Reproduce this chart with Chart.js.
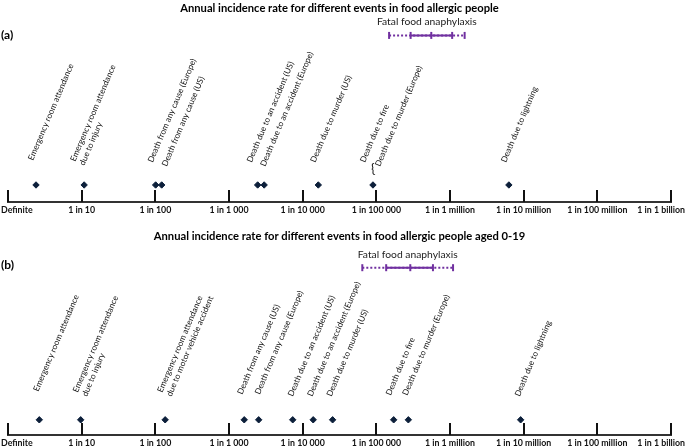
<!DOCTYPE html>
<html>
<head>
<meta charset="utf-8">
<script src="https://cdn.jsdelivr.net/npm/chart.js@4.4.1/dist/chart.umd.min.js"></script>
<style>
  body { margin: 0; background: #fff; }
  canvas { display: block; }
</style>
</head>
<body>
<canvas id="panelA" width="686" height="226"></canvas>
<canvas id="panelB" width="686" height="222"></canvas>
<script>
// AXIS: annual rate written as "1 in N"
const tickValues = [1, 1e1, 1e2, 1e3, 1e4, 1e5, 1e6, 1e7, 1e8, 1e9];
const tickNames = ["Definite", "1 in 10", "1 in 100", "1 in 1 000", "1 in 10 000",
  "1 in 100 000", "1 in 1 million", "1 in 10 million", "1 in 100 million", "1 in 1 billion"];

// PANEL (a) - all food allergic people (N in "1 in N")
const rateA = [2.4, 10.8, 101, 122, 2450, 3000, 16300, 90000, 6300000];
const labelsA = [
  "Emergency room attendance",
  "Emergency room attendance\ndue to injury",
  "Death from any cause (Europe)",
  "Death from any cause (US)",
  "Death due to an accident (US)",
  "Death due to an accident (Europe)",
  "Death due to murder (US)",
  "Death due to fire",
  "Death due to murder (Europe)",
  "Death due to lightning"
];
const labelPointA = [0, 1, 2, 3, 4, 5, 6, 7, 7, 8];
// fatal food anaphylaxis: outer low, inner low, middle, inner high, outer high
const anaphylaxisA = [149000, 292000, 557000, 1070000, 1580000];

// PANEL (b) - food allergic people aged 0-19
const rateB = [2.66, 9.7, 136, 1610, 2530, 7330, 13900, 25500, 172000, 272000, 9100000];
const labelsB = [
  "Emergency room attendance",
  "Emergency room attendance\ndue to injury",
  "Emergency room attendance\ndue to motor vehicle accident",
  "Death from any cause (US)",
  "Death from any cause (Europe)",
  "Death due to an accident (US)",
  "Death due to an accident (Europe)",
  "Death due to murder (US)",
  "Death due to fire",
  "Death due to murder (Europe)",
  "Death due to lightning"
];
const labelPointB = [0, 1, 2, 3, 4, 5, 6, 7, 8, 9, 10];
const anaphylaxisB = [64500, 136000, 289000, 587000, 1100000];

const PURPLE = "#7030a0";
const ROT = -67 * Math.PI / 180;

// axis ticks, tick names, rotated event labels and small texts
const decor = {
  id: "decor",
  afterDraw(chart, args, o) {
    const ctx = chart.ctx;
    const xs = chart.scales.x, ys = chart.scales.y;
    const base = chart.chartArea.bottom;
    ctx.save();

    // tick marks point up from the axis
    ctx.strokeStyle = "#111";
    ctx.lineWidth = 2;
    xs.ticks.forEach(t => {
      const px = Math.round(xs.getPixelForValue(t.value));
      ctx.beginPath();
      ctx.moveTo(px, base);
      ctx.lineTo(px, base - 12);
      ctx.stroke();
    });

    // tick names, kept inside the canvas at both ends
    ctx.fillStyle = "#111";
    ctx.font = "bold 8.8px Lato";
    ctx.textBaseline = "middle";
    ctx.textAlign = "left";
    xs.ticks.forEach((t, i) => {
      const txt = tickNames[i];
      const w = ctx.measureText(txt).width;
      let lx = xs.getPixelForValue(t.value) - w / 2;
      lx = Math.max(1, Math.min(chart.width - 1 - w, lx));
      ctx.fillText(txt, lx, base + 8.5);
    });

    // event labels
    ctx.font = "8.3px Lato";
    ctx.fillStyle = "#111";
    ctx.textBaseline = "alphabetic";
    o.labels.forEach((lab, i) => {
      const v = o.rates[o.labelPoint[i]];
      const nx = o.nudge[i][0], ny = o.nudge[i][1];
      ctx.save();
      ctx.translate(xs.getPixelForValue(v) + o.dx + nx, base - o.lift + ny);
      ctx.rotate(ROT);
      lab.split("\n").forEach((ln, j) => ctx.fillText(ln, 0, j * 10));
      ctx.restore();
    });

    // brace grouping two labels on one point
    if (o.brace) {
      const bx = xs.getPixelForValue(o.rates[o.brace.point]) + o.brace.dx;
      ctx.save();
      ctx.translate(bx, base - o.brace.lift);
      ctx.rotate(o.brace.rot * Math.PI / 180);
      ctx.font = "13px Lato";
      ctx.textAlign = "center";
      ctx.textBaseline = "middle";
      ctx.fillText("{", 0, 0);
      ctx.restore();
    }

    // caption above the anaphylaxis range
    const r = o.range;
    const cx = (xs.getPixelForValue(r[0]) + xs.getPixelForValue(r[r.length - 1])) / 2;
    ctx.font = "10.3px Lato";
    ctx.fillStyle = "#222";
    ctx.textAlign = "center";
    ctx.textBaseline = "middle";
    ctx.fillText("Fatal food anaphylaxis", cx, ys.getPixelForValue(o.rangeY) - 13.5);

    // panel tag
    ctx.font = "bold 12px Lato";
    ctx.fillStyle = "#000";
    ctx.textAlign = "left";
    ctx.fillText(o.tag, 1, o.tagY);
    ctx.restore();
  }
};

function makePanel(id, cfg) {
  const r = cfg.range;
  return new Chart(document.getElementById(id), {
    type: "scatter",
    data: {
      datasets: [
        {
          // inner (solid) part of the anaphylaxis range
          data: [r[1], r[2], r[3]].map(v => ({ x: v, y: cfg.rangeY })),
          showLine: true,
          borderColor: PURPLE,
          borderWidth: 2,
          pointStyle: "line",
          pointRotation: 90,
          pointRadius: 3.5,
          pointBorderWidth: 2,
          pointBorderColor: PURPLE,
          clip: false
        },
        {
          // outer (dotted) part
          data: [r[0], r[4]].map(v => ({ x: v, y: cfg.rangeY })),
          showLine: true,
          borderColor: PURPLE,
          borderWidth: 2,
          borderDash: [2, 2],
          pointStyle: "line",
          pointRotation: 90,
          pointRadius: 3.5,
          pointBorderWidth: 2,
          pointBorderColor: PURPLE,
          clip: false
        },
        {
          data: cfg.rates.map(v => ({ x: v, y: cfg.markY })),
          pointStyle: "rectRot",
          pointRadius: 3.2,
          pointBorderWidth: 1,
          backgroundColor: "#0c1f3a",
          borderColor: "#0c1f3a",
          clip: false
        }
      ]
    },
    options: {
      responsive: false,
      animation: false,
      events: [],
      layout: { padding: { left: 8, right: 15, top: 0, bottom: cfg.padBottom } },
      scales: {
        x: {
          type: "logarithmic",
          min: 1,
          max: 1e9,
          afterBuildTicks: s => { s.ticks = tickValues.map(v => ({ value: v })); },
          ticks: { display: false },
          grid: { display: false, drawTicks: false },
          border: { display: true, color: "#333", width: 2 }
        },
        y: { type: "linear", min: 0, max: 100, display: false }
      },
      plugins: {
        legend: { display: false },
        tooltip: { enabled: false },
        title: {
          display: true,
          text: cfg.title,
          color: "#000",
          font: { family: "Lato", size: 11.2, weight: "bold" },
          padding: { top: cfg.titleTop, bottom: 4 }
        },
        decor: {
          labels: cfg.labels,
          labelPoint: cfg.labelPoint,
          rates: cfg.rates,
          nudge: cfg.nudge,
          dx: cfg.dx,
          lift: 39,
          brace: cfg.brace,
          range: r,
          rangeY: cfg.rangeY,
          tag: cfg.tag,
          tagY: cfg.tagY
        }
      }
    },
    plugins: [decor]
  });
}

makePanel("panelA", {
  title: "Annual incidence rate for different events in food allergic people",
  titleTop: 1.5,
  padBottom: 24,
  rates: rateA,
  labels: labelsA,
  labelPoint: labelPointA,
  range: anaphylaxisA,
  markY: 9.3,
  rangeY: 91,
  dx: -3,
  nudge: [[0, -2], [-6, -1], [0, 0], [8, 4], [-3, 0], [4, 4], [0, 0], [-5, 0], [10, 4], [0, 0]],
  brace: { point: 7, dx: 0, lift: 33, rot: -5 },
  tag: "(a)",
  tagY: 35
});

makePanel("panelB", {
  title: "Annual incidence rate for different events in food allergic people aged 0-19",
  titleTop: 4,
  padBottom: 13,
  rates: rateB,
  labels: labelsB,
  labelPoint: labelPointB,
  range: anaphylaxisB,
  markY: 8.1,
  rangeY: 89.2,
  dx: -1,
  nudge: [[0, -4], [-2, -3], [-2, -3], [-1, -1], [2, -1], [1, 1], [0, 1], [0, 1], [-2, 0], [0, 0], [0, 1]],
  brace: null,
  tag: "(b)",
  tagY: 39
});
</script>
</body>
</html>
